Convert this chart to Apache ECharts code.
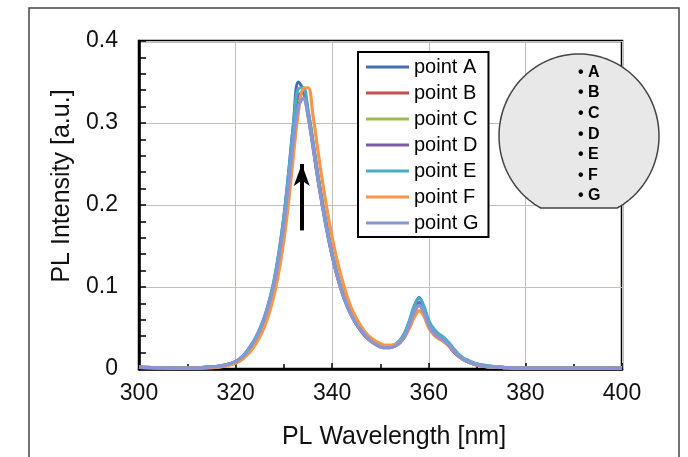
<!DOCTYPE html>
<html>
<head>
<meta charset="utf-8">
<script src="https://cdn.jsdelivr.net/npm/echarts@6/dist/echarts.min.js"></script>
<style>
  html, body { margin: 0; padding: 0; background: #fff; }
  #chart { width: 688px; height: 457px; }
</style>
</head>
<body>
<div id="chart"></div>
<script>
// wavelength grid [nm]
const wavelengths = [300, 310, 316, 318,
  320, 321, 322, 323, 324, 325, 326, 327, 328, 329,
  330, 331, 332, 333, 334, 335, 336, 337, 338, 339,
  340, 341, 342, 343, 344, 345, 346, 347, 348, 349,
  350, 351, 352, 353, 354, 355, 356, 357, 358, 359,
  360, 361, 362, 363, 364, 365, 366, 367, 368,
  370, 372, 375, 380, 390, 400];

const pointA = [.002, .001, .003, .005,
  .009, .013, .019, .027, .036, .048, .063, .083, .108, .142,
  .185, .24, .30, .35, .34, .31, .272, .233, .198, .166,
  .138, .114, .094, .078, .065, .055, .047, .04, .035, .031,
  .028, .027, .027, .029, .034, .043, .058, .076, .087, .075,
  .057, .047, .041, .037, .031, .024, .018, .013, .01,
  .006, .004, .002, .001, .001, .001];

const pointB = [.002, .001, .002, .004,
  .008, .012, .017, .025, .034, .045, .06, .079, .103, .135,
  .176, .228, .285, .328, .338, .315, .278, .238, .202, .17,
  .141, .116, .096, .079, .066, .055, .046, .039, .034, .03,
  .027, .026, .026, .028, .032, .04, .053, .069, .078, .068,
  .052, .043, .038, .034, .029, .022, .016, .012, .009,
  .005, .003, .002, .001, .001, .001];

const pointC = [.002, .001, .002, .004,
  .008, .012, .018, .026, .035, .046, .061, .08, .105, .137,
  .178, .23, .287, .33, .336, .312, .276, .237, .201, .169,
  .14, .115, .095, .079, .066, .055, .047, .04, .034, .03,
  .028, .027, .027, .029, .033, .041, .055, .071, .08, .07,
  .054, .045, .039, .035, .03, .023, .017, .012, .009,
  .005, .003, .002, .001, .001, .001];

const pointD = [.002, .001, .003, .005,
  .009, .013, .018, .026, .035, .047, .062, .081, .106, .139,
  .181, .234, .292, .333, .337, .31, .274, .235, .2, .168,
  .139, .115, .095, .079, .066, .055, .047, .04, .035, .031,
  .028, .027, .027, .029, .033, .042, .056, .072, .081, .071,
  .054, .045, .04, .036, .03, .023, .017, .013, .009,
  .005, .003, .002, .001, .001, .001];

const pointE = [.002, .001, .003, .005,
  .009, .013, .019, .027, .037, .049, .064, .084, .109, .143,
  .186, .24, .298, .342, .343, .314, .276, .236, .2, .168,
  .14, .116, .096, .08, .067, .057, .049, .042, .036, .032,
  .029, .028, .028, .03, .035, .044, .059, .077, .086, .076,
  .059, .049, .043, .039, .033, .026, .019, .014, .011,
  .006, .004, .002, .001, .001, .001];

const pointF = [.002, .001, .002, .004,
  .007, .01, .015, .021, .029, .039, .052, .069, .091, .12,
  .157, .205, .262, .313, .342, .343, .31, .268, .228, .192,
  .16, .133, .11, .09, .074, .062, .052, .044, .038, .034,
  .031, .029, .029, .03, .033, .039, .05, .063, .071, .064,
  .05, .042, .037, .034, .029, .023, .017, .012, .009,
  .005, .003, .002, .001, .001, .001];

const pointG = [.002, .001, .003, .005,
  .009, .013, .018, .026, .035, .047, .062, .081, .105, .137,
  .177, .227, .282, .32, .33, .308, .272, .233, .198, .166,
  .138, .114, .094, .078, .065, .055, .047, .04, .034, .03,
  .027, .026, .026, .028, .032, .04, .054, .07, .078, .069,
  .053, .044, .039, .035, .03, .023, .017, .012, .009,
  .005, .003, .002, .001, .001, .001];

const seriesNames = ["point A", "point B", "point C", "point D", "point E", "point F", "point G"];
const seriesValues = [pointA, pointB, pointC, pointD, pointE, pointF, pointG];
const seriesColors = ["#4470b2", "#c0504d", "#9bbb59", "#7b5aa6", "#4bacc6", "#f79646", "#8796d4"];

const waferLabels = ["A", "B", "C", "D", "E", "F", "G"];

// arrow annotation (data coords)
const arrowX = 333.7;
const arrowFrom = 0.169;
const arrowTo = 0.25;

const font = "Liberation Sans, Arial, sans-serif";

// wafer outline with a flat at the bottom
function waferPoints(cx, cy, rx, ry, flatY) {
  const t0 = Math.PI - Math.asin((flatY - cy) / ry);
  const t1 = Math.asin((flatY - cy) / ry) + 2 * Math.PI;
  const pts = [];
  const n = 120;
  for (let i = 0; i <= n; i++) {
    const t = t0 + (t1 - t0) * i / n;
    pts.push([cx + rx * Math.cos(t), cy + ry * Math.sin(t)]);
  }
  return pts;
}

const chart = echarts.init(document.getElementById("chart"));

const series = seriesNames.map((name, i) => ({
  name,
  type: "line",
  smooth: 0.4,
  symbol: "none",
  lineStyle: { color: seriesColors[i], width: 3.2 },
  itemStyle: { color: seriesColors[i] },
  data: wavelengths.map((w, k) => [w, seriesValues[i][k]]),
}));

series[0].markLine = {
  silent: true,
  symbol: ["none", "arrow"],
  symbolSize: [12, 22],
  label: { show: false },
  lineStyle: { color: "#000", width: 4, type: "solid" },
  data: [[{ coord: [arrowX, arrowFrom] }, { coord: [arrowX, arrowTo] }]],
};

const option = {
  animation: false,
  backgroundColor: "#fff",
  grid: {
    left: 139,
    top: 41,
    right: 66,
    bottom: 88,
    show: true,
    borderColor: "#000",
    borderWidth: 2.5,
  },
  legend: {
    orient: "vertical",
    left: 358,
    top: 52,
    icon: "rect",
    itemWidth: 43,
    itemHeight: 3,
    itemGap: 6,
    padding: [5, 10, 4, 8],
    backgroundColor: "#fff",
    borderColor: "#000",
    borderWidth: 2,
    textStyle: { fontFamily: font, fontSize: 20, color: "#000", lineHeight: 20 },
    data: seriesNames,
  },
  xAxis: {
    type: "value",
    min: 300,
    max: 400,
    interval: 20,
    axisLine: { lineStyle: { color: "#000", width: 2.5 } },
    axisTick: { inside: true, length: 6, lineStyle: { color: "#000", width: 1.5 } },
    minorTick: { show: true, splitNumber: 2, length: 5, lineStyle: { color: "#000", width: 1.5 } },
    axisLabel: { fontFamily: font, fontSize: 23, color: "#111", margin: 13 },
    splitLine: { show: true, lineStyle: { color: "#c8bdb8", width: 1 } },
  },
  yAxis: {
    type: "value",
    min: 0,
    max: 0.4,
    interval: 0.1,
    axisLine: { show: true, lineStyle: { color: "#000", width: 2.5 } },
    axisTick: { show: true, inside: true, length: 7, lineStyle: { color: "#000", width: 1.5 } },
    minorTick: { show: true, splitNumber: 5, length: 7, lineStyle: { color: "#000", width: 1.5 } },
    axisLabel: { fontFamily: font, fontSize: 23, color: "#111", margin: 21 },
    splitLine: { show: true, lineStyle: { color: "#c8bdb8", width: 1 } },
  },
  graphic: [
    {
      type: "rect",
      z: -1,
      silent: true,
      shape: { x: 29, y: 8, width: 650, height: 470 },
      style: { fill: "none", stroke: "#444", lineWidth: 1.5 },
    },
    {
      type: "polygon",
      z: 100,
      silent: true,
      shape: { points: waferPoints(579, 136, 80, 82, 208) },
      style: { fill: "#e8e8e8", stroke: "#444", lineWidth: 1.5 },
    },
    {
      type: "text",
      z: 101,
      silent: true,
      x: 578,
      y: 62,
      style: {
        text: waferLabels.map(l => "\u2022 " + l).join("\n"),
        font: "bold 16px " + font,
        lineHeight: 20.6,
        fill: "#000",
      },
    },
    {
      type: "text",
      silent: true,
      x: 394,
      y: 437,
      style: {
        text: "PL Wavelength [nm]",
        font: "25px " + font,
        fill: "#111",
        align: "center",
        verticalAlign: "middle",
      },
    },
    {
      type: "text",
      silent: true,
      x: 62,
      y: 186,
      rotation: Math.PI / 2,
      style: {
        text: "PL Intensity [a.u.]",
        font: "25px " + font,
        fill: "#111",
        align: "center",
        verticalAlign: "middle",
      },
    },
  ],
  series,
};

chart.setOption(option);
</script>
</body>
</html>
